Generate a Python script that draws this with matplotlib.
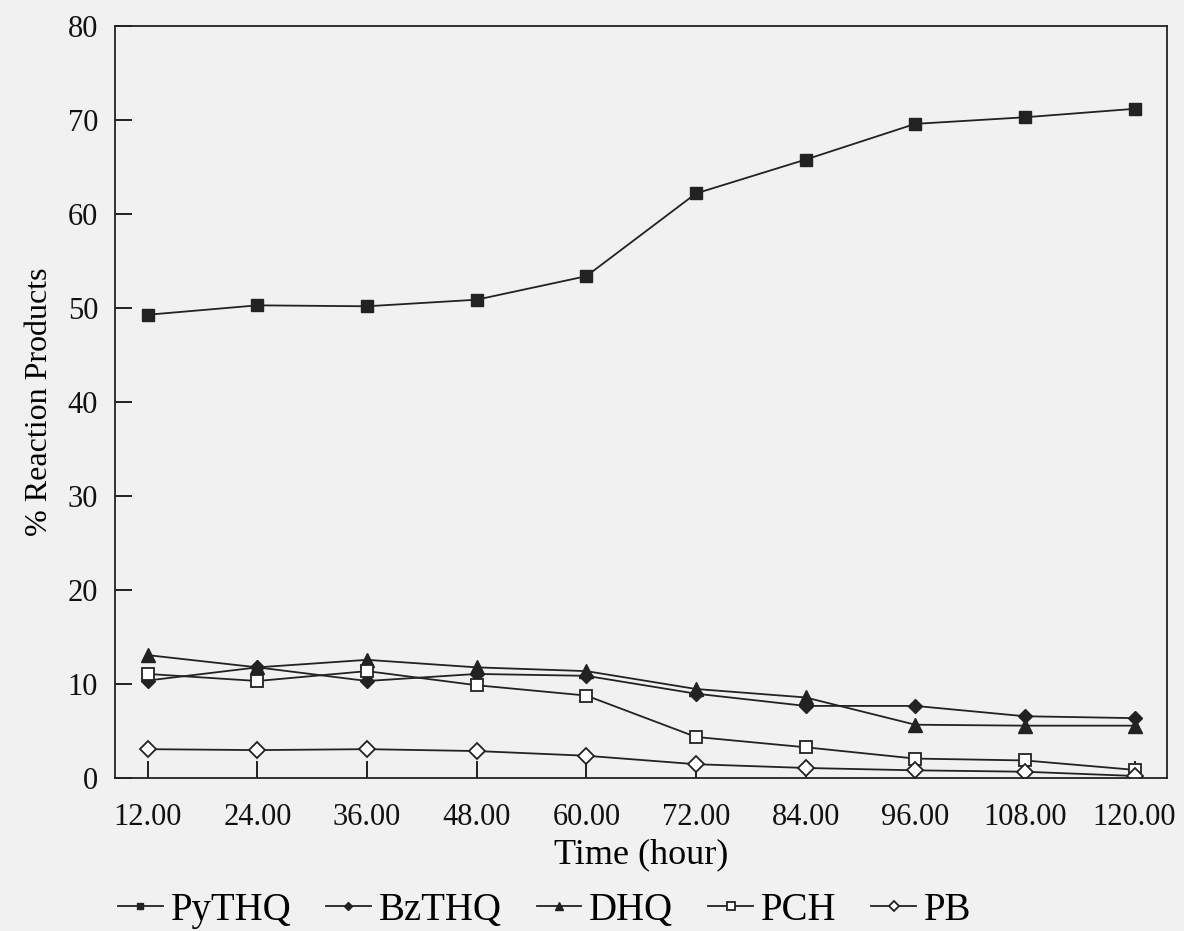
import matplotlib.pyplot as plt

plt.rcParams['font.family'] = ['Liberation Serif', 'DejaVu Serif']

# Data
hours = [12, 24, 36, 48, 60, 72, 84, 96, 108, 120]
pythq = [49.3, 50.3, 50.2, 50.9, 53.4, 62.2, 65.8, 69.6, 70.3, 71.2]
bzthq = [10.4, 11.8, 10.35, 11.1, 10.9, 9.0, 7.7, 7.7, 6.6, 6.4]
dhq = [13.1, 11.8, 12.6, 11.8, 11.4, 9.5, 8.6, 5.7, 5.6, 5.6]
pch = [11.1, 10.35, 11.4, 9.9, 8.8, 4.4, 3.3, 2.1, 1.9, 0.9]
pb = [3.1, 3.0, 3.1, 2.9, 2.4, 1.5, 1.1, 0.85, 0.7, 0.25]

bg = '#f1f1f1'
fig = plt.figure(figsize=(11.84, 9.31), dpi=100, facecolor=bg)
ax = fig.add_axes([0.097, 0.164, 0.889, 0.808], facecolor=bg)

lw = 1.3
ax.plot(hours, pythq, color='#222222', lw=lw, marker='s', ms=8, mfc='#222222', label='PyTHQ')
ax.plot(hours, bzthq, color='#222222', lw=lw, marker='D', ms=7, mfc='#222222', label='BzTHQ')
ax.plot(hours, dhq, color='#222222', lw=lw, marker='^', ms=10, mfc='#222222', label='DHQ')
ax.plot(hours, pch, color='#222222', lw=lw, marker='s', ms=9, mfc='white', mew=1.3, label='PCH')
ax.plot(hours, pb, color='#222222', lw=lw, marker='D', ms=8, mfc='white', mew=1.3, label='PB')

ax.set_xlim(8.4, 123.6)
ax.set_ylim(0, 80)
ax.set_xticks(hours)
ax.set_xticklabels([f'{h:.2f}' for h in hours])
ax.set_yticks(range(0, 81, 10))
ax.tick_params(direction='in', length=12, width=1.3, labelsize=22, colors='#111111')
ax.tick_params(axis='x', pad=18)
ax.tick_params(axis='y', pad=12)
for s in ax.spines.values():
    s.set_linewidth(1.3)
    s.set_color('#222222')

ax.set_xlabel('Time (hour)', fontsize=26, labelpad=4)
ax.set_ylabel('% Reaction Products', fontsize=23, labelpad=10)

fig.legend(loc='lower left', bbox_to_anchor=(0.07, -0.035), ncol=5, frameon=False,
           fontsize=28, handlelength=1.15, handletextpad=0.2, columnspacing=0.9,
           markerscale=0.6)

fig.savefig('out.png', dpi=100, facecolor=bg)
